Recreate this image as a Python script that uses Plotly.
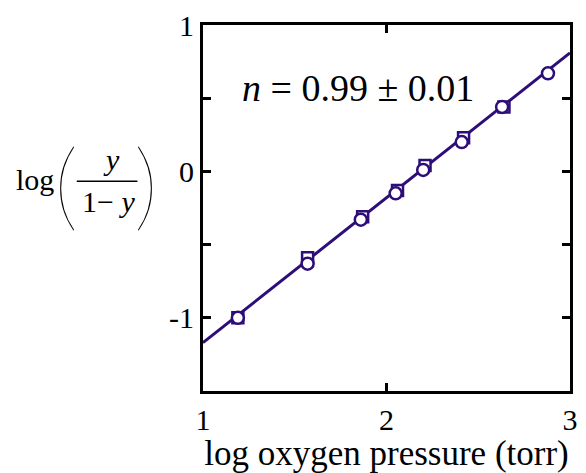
import plotly.graph_objects as go

# Data
x_circ = [1.19, 1.57, 1.86, 2.05, 2.20, 2.41, 2.63, 2.88]
y_circ = [-1.00, -0.63, -0.33, -0.15, 0.01, 0.20, 0.44, 0.67]
x_sq = [1.19, 1.57, 1.87, 2.06, 2.21, 2.42, 2.64]
y_sq = [-1.00, -0.59, -0.31, -0.13, 0.04, 0.23, 0.44]
fit_x = [1.0, 3.0]
fit_y = [-1.17, 0.81]

x_ticks = [1, 2, 3]
x_ticktext = ["1", "2", "3"]
y_ticks = [-1.5, -1.0, -0.5, 0.0, 0.5, 1.0]
y_ticktext = ["", "-1", "", "0", "", "1"]

COL = "#2d0e78"
FONT = "Liberation Serif"

W, H = 586, 473
ML, MR, MT, MB = 203, 8, 22, 76
PW, PH = W - ML - MR, H - MT - MB


def px(x):
    return (x - ML) / PW


def py(y):
    return (H - MB - y) / PH


fig = go.Figure()
fig.add_trace(go.Scatter(x=fit_x, y=fit_y, mode="lines",
                         line=dict(color=COL, width=3), showlegend=False))
fig.add_trace(go.Scatter(x=x_sq, y=y_sq, mode="markers",
                         marker=dict(symbol="square", size=11, color="white",
                                     line=dict(color=COL, width=2.5)),
                         showlegend=False))
fig.add_trace(go.Scatter(x=x_circ, y=y_circ, mode="markers",
                         marker=dict(symbol="circle", size=12, color="white",
                                     line=dict(color=COL, width=2.5)),
                         showlegend=False))

axis_common = dict(showline=True, linecolor="black", linewidth=3, mirror="ticks",
                   ticks="inside", ticklen=8, tickwidth=2.5, tickcolor="black",
                   showgrid=False, zeroline=False,
                   tickfont=dict(family=FONT, size=30, color="black"))

fig.update_xaxes(range=[1, 3], tickvals=x_ticks, ticktext=x_ticktext,
                 title=dict(text="log oxygen pressure (torr)",
                            font=dict(family=FONT, size=35, color="black"),
                            standoff=4),
                 **axis_common)
fig.update_yaxes(range=[-1.5, 1], tickvals=y_ticks, ticktext=y_ticktext,
                 **axis_common)

ann = [
    dict(text="<i>n</i> = 0.99 ± 0.01", x=px(361), y=py(87), size=38, fam=FONT, w=400),
    dict(text="log", x=px(31), y=py(180), size=30, fam=FONT, w=400),
    dict(text="(", x=px(63), y=py(182), size=96, fam="Lato", w=100),
    dict(text=")", x=px(145), y=py(182), size=96, fam="Lato", w=100),
    dict(text="<i>y</i>", x=px(109), y=py(160), size=30, fam=FONT, w=400),
    dict(text="1− <i>y</i>", x=px(106), y=py(203), size=30, fam=FONT, w=400),
]
for a in ann:
    fig.add_annotation(text=a["text"], x=a["x"], y=a["y"], xref="paper", yref="paper",
                       xanchor="center", yanchor="middle", showarrow=False,
                       font=dict(family=a["fam"], size=a["size"], weight=a["w"], color="black"))

fig.add_shape(type="line", xref="paper", yref="paper",
              x0=px(74), x1=px(136), y0=py(182), y1=py(182),
              line=dict(color="black", width=1.5))

fig.update_layout(width=W, height=H, margin=dict(l=ML, r=MR, t=MT, b=MB),
                  paper_bgcolor="white", plot_bgcolor="white",
                  font=dict(family=FONT, color="black"))

fig.write_html("out.html")
